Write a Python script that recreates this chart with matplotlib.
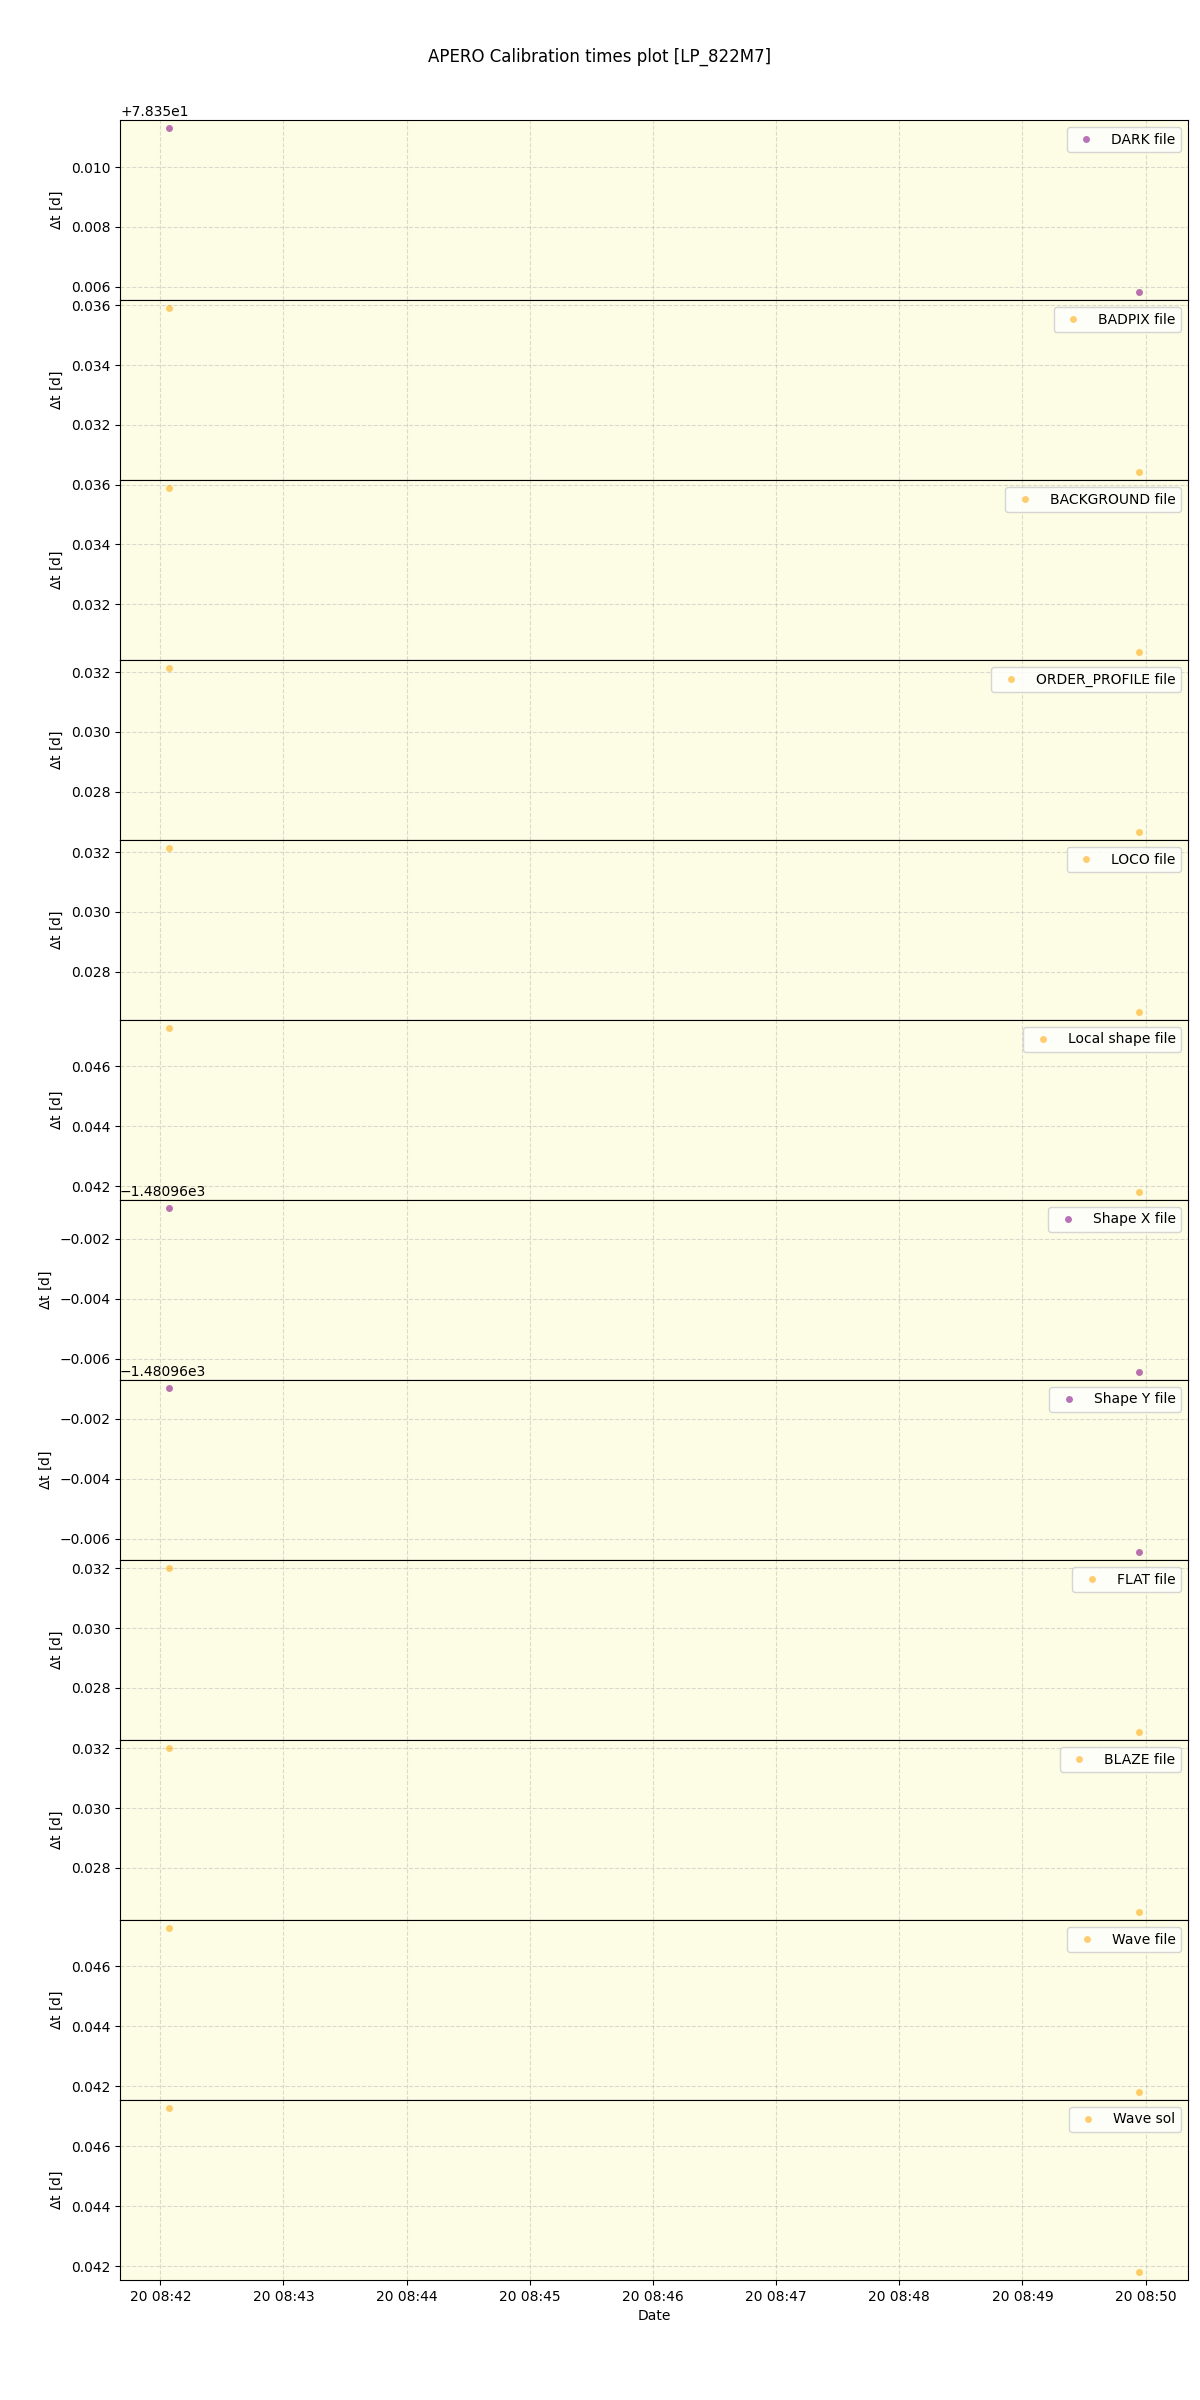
import datetime
import matplotlib
matplotlib.use('Agg')
import matplotlib.pyplot as plt

# calibration files
labels = ['DARK file', 'BADPIX file', 'BACKGROUND file', 'ORDER_PROFILE file',
          'LOCO file', 'Local shape file', 'Shape X file', 'Shape Y file',
          'FLAT file', 'BLAZE file', 'Wave file', 'Wave sol']
colors = ['purple', 'orange', 'orange', 'orange', 'orange', 'orange',
          'purple', 'purple', 'orange', 'orange', 'orange', 'orange']

# observation times
dates = [datetime.datetime(2023, 1, 20, 8, 42, 4),
         datetime.datetime(2023, 1, 20, 8, 49, 57)]

# delta t [d] for each calibration
dark = [78.36130, 78.35583]
badpix = [0.03590, 0.03043]
background = [0.03588, 0.03041]
order_profile = [0.03213, 0.02666]
loco = [0.03213, 0.02666]
local_shape = [0.04728, 0.04181]
shape_x = [-1480.96097, -1480.96644]
shape_y = [-1480.96097, -1480.96644]
flat = [0.03200, 0.02653]
blaze = [0.03200, 0.02653]
wave_file = [0.04728, 0.04181]
wave_sol = [0.04728, 0.04181]

values = [dark, badpix, background, order_profile, loco, local_shape,
          shape_x, shape_y, flat, blaze, wave_file, wave_sol]

fig, axes = plt.subplots(len(labels), 1, figsize=(12, 24), sharex=True)

for ax, lab, col, vals in zip(axes, labels, colors, values):
    ax.plot(dates, vals, ls='None', marker='o', ms=5, color=col,
            alpha=0.55, mec='none', label=lab)
    ax.set_facecolor('#fdfce4')
    ax.grid(True, ls='--', alpha=0.45)
    ax.legend(loc='upper right')
    ax.set_ylabel(r'$\Delta$t [d]')

axes[-1].set_xlabel('Date')
fig.suptitle('APERO Calibration times plot [LP_822M7]')
plt.subplots_adjust(left=0.1, right=0.99, top=0.95, bottom=0.05, hspace=0)
plt.savefig('out.png', dpi=100)
